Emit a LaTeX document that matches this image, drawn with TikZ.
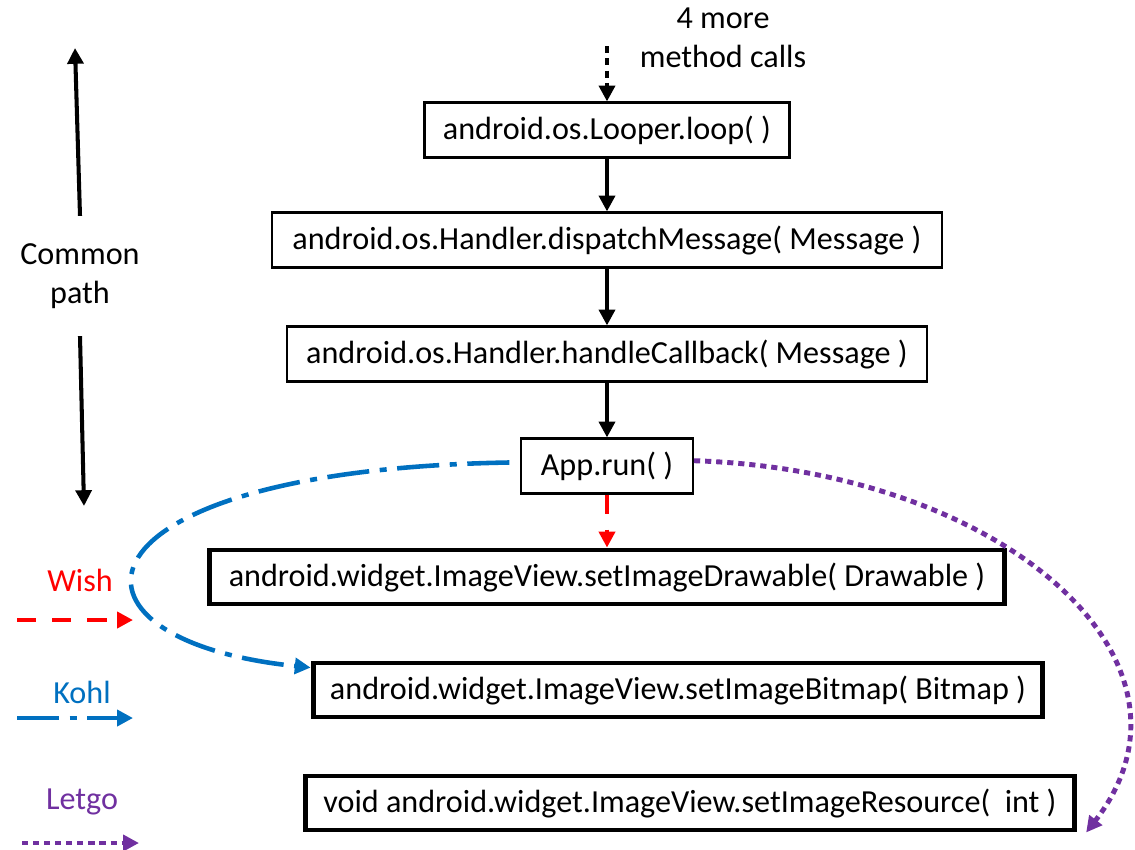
\documentclass[tikz,border=0pt]{standalone}
\usepackage{fontspec}
\setmainfont{Carlito}
\usetikzlibrary{arrows.meta}

\definecolor{wishred}{HTML}{FF0000}
\definecolor{kohlblue}{HTML}{0070C0}
\definecolor{letgopurple}{HTML}{7030A0}

\begin{document}
\begin{tikzpicture}[x=0.02cm, y=-0.02cm,
  txt/.style={font=\fontsize{18.3}{22.5}\selectfont, align=center},
  call/.style={txt, draw, line width=1.2pt, minimum height=1.1cm, inner sep=0pt},
  target/.style={call, line width=2.8pt, minimum height=1.08cm},
  tip/.style={-{Triangle[length=9pt,width=9pt]}},
  flow/.style={tip, line width=2.3pt},
  wish/.style={tip, wishred, line width=2.6pt, dash pattern=on 11pt off 9pt},
  kohl/.style={tip, kohlblue, line width=2.6pt, dash pattern=on 24pt off 6pt on 4pt off 6pt},
  letgo/.style={tip, letgopurple, line width=2.8pt, dash pattern=on 3.5pt off 2.8pt},
]
\useasboundingbox (0,0) rectangle (1135,849);

% Call chain
\node[call, minimum width=7.3cm]   (looper)   at (607,130) {android.os.Looper.loop( )};
\node[call, minimum width=13.4cm]  (dispatch) at (607,240) {android.os.Handler.dispatchMessage( Message )};
\node[call, minimum width=12.8cm]  (handle)   at (607,354) {android.os.Handler.handleCallback( Message )};
\node[call, minimum width=3.44cm]  (app)      at (607,466) {App.run( )};

% Targets
\node[target, minimum width=15.9cm] (drawable) at (607,577) {android.widget.ImageView.setImageDrawable( Drawable )};
\node[target, minimum width=14.6cm] (bitmap)   at (678,690) {android.widget.ImageView.setImageBitmap( Bitmap )};
\node[target, minimum width=15.4cm] (resource) at (690,803) {void android.widget.ImageView.setImageResource(\ \ int )};

% More calls above
\node[txt] (more) at (723,38) {4 more\\method calls};
\coordinate (above) at (607,46);
\draw[flow, line width=2.8pt, dash pattern=on 4pt off 3pt] (above) -- (looper.north);

% Common path
\draw[flow] (looper) -- (dispatch);
\draw[flow] (dispatch) -- (handle);
\draw[flow] (handle) -- (app);

% Tools
\draw[wish] (app) -- (drawable);
\draw[kohl] ([xshift=-6pt,yshift=2pt]app.west) .. controls (60,470) and (40,640) .. ([yshift=-4pt]bitmap.north west);
\draw[letgo] ([yshift=3pt]app.east) .. controls (1000,470) and (1220,660) .. ([xshift=5pt]resource.south east);

% Side arrow
\node[txt] (common) at (80,276) {Common\\path};
\coordinate (cptop) at (75,48);
\coordinate (cpbot) at (84,506);
\draw[flow] ([yshift=12pt]common.north) -- (cptop);
\draw[flow] ([yshift=-12pt]common.south) -- (cpbot);

% Legend
\node[txt, text=wishred]     (wishlbl)  at (80,580) {Wish};
\node[txt, text=kohlblue]    (kohllbl)  at (82,692) {Kohl};
\node[txt, text=letgopurple] (letgolbl) at (82,802) {Letgo};
\coordinate (w0) at (17,620);  \coordinate (w1) at (133,620);
\coordinate (k0) at (17,718);  \coordinate (k1) at (133,718);
\coordinate (l0) at (22,843);  \coordinate (l1) at (139,843);
\draw[wish]  (w0) -- (w1);
\draw[kohl]  (k0) -- (k1);
\draw[letgo] (l0) -- (l1);

\end{tikzpicture}
\end{document}
